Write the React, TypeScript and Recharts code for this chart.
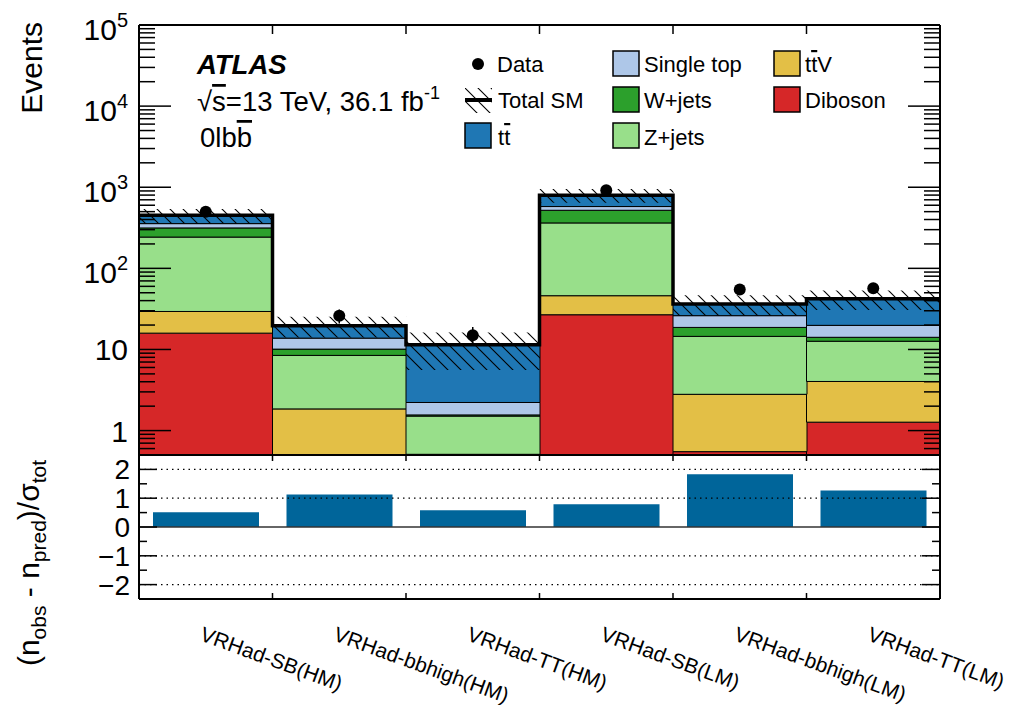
import React from 'react';
import {
  Bar,
  ComposedChart,
  ErrorBar,
  Line,
  ReferenceLine,
  Scatter,
  XAxis,
  YAxis,
} from 'recharts';

const FONT = '"Liberation Sans", Arial, Helvetica, sans-serif';

const regions = [
  'VRHad-SB(HM)',
  'VRHad-bbhigh(HM)',
  'VRHad-TT(HM)',
  'VRHad-SB(LM)',
  'VRHad-bbhigh(LM)',
  'VRHad-TT(LM)',
];

// background yields per region, bottom of the stack first
const diboson = [15.9, 0.3, 0.1, 26.8, 0.55, 1.27];
const ttV = [13.5, 1.55, 0.41, 19.2, 2.25, 2.76];
const zJets = [213.6, 6.6, 1.0, 317, 11.7, 8.6];
const wJets = [72, 1.65, 0.05, 157, 4.2, 1.5];
const singleTop = [41, 3.7, 0.66, 58, 7.4, 5.7];
const ttbar = [95, 5.8, 9.2, 219, 10.2, 22.5];

const observed = [500, 26, 15, 918, 55, 57];
const observedErr = [22, 5.1, 3.9, 30, 7.4, 7.5];

// total SM uncertainty band edges
const bandLow = [355, 14, 5.6, 645, 26, 30.7];
const bandHigh = [540, 25.3, 16.2, 950, 46.5, 53.5];

// (n_obs - n_pred) / sigma_tot
const pulls = [0.51, 1.13, 0.58, 0.79, 1.83, 1.27];

const yDecades = [1, 10, 100, 1000, 10000, 100000];
const pullTicks = [-2, -1.5, -1, -0.5, 0, 0.5, 1, 1.5, 2];
const binEdges = [1, 2, 3, 4, 5];
const labelTicks = [0.5, 1, 1.5, 2, 2.5, 3, 3.5, 4, 4.5, 5, 5.5];

const layers = [
  { key: 'dib', name: 'Diboson', colour: '#d62728' },
  { key: 'ttv', name: 'ttV', colour: '#e3bf46' },
  { key: 'zj', name: 'Z+jets', colour: '#98df8a' },
  { key: 'wj', name: 'W+jets', colour: '#2ca02c' },
  { key: 'st', name: 'Single top', colour: '#aec7e8' },
  { key: 'tt', name: 'ttbar', colour: '#1f77b4' },
];
const PULL_COLOUR = '#00659a';

const rows = regions.map((region, i) => ({
  region,
  pos: i + 0.5,
  dib: diboson[i],
  ttv: ttV[i],
  zj: zJets[i],
  wj: wJets[i],
  st: singleTop[i],
  tt: ttbar[i],
  lo: bandLow[i],
  hi: bandHigh[i],
  obs: observed[i],
  err: observedErr[i],
  pull: pulls[i],
}));

const totals = rows.map((r) => r.dib + r.ttv + r.zj + r.wj + r.st + r.tt);
// step outline of the total: one point per bin edge
const stepRows = [...totals, totals[totals.length - 1]].map((total, i) => ({ pos: i, total }));

const logTicks: number[] = [];
[0.1, ...yDecades].forEach((d) => {
  for (let m = 1; m <= 9; m++) {
    const v = +(d * m).toPrecision(3);
    if (v >= 0.6 && v <= 100000) logTicks.push(v);
  }
});

const isDecade = (v: number) => Math.abs(Math.log10(v) - Math.round(Math.log10(v))) < 1e-6;

const LogTickLeft = (props: any) => {
  const { x, y, payload } = props;
  const v = payload.value;
  const major = isDecade(v);
  const exp = Math.round(Math.log10(v));
  return (
    <g>
      <line x1={x} x2={x + (major ? 32 : 16)} y1={y} y2={y} stroke="#000" strokeWidth={1.5} />
      {major && exp < 2 && (
        <text x={x - 11} y={y + 11} textAnchor="end" fontSize={30} fontFamily={FONT} fill="#000">
          {exp === 0 ? '1' : '10'}
        </text>
      )}
      {major && exp >= 2 && (
        <text x={x - 11} y={y + 15} textAnchor="end" fontSize={30} fontFamily={FONT} fill="#000">
          10
          <tspan fontSize={20} dy={-13}>
            {exp}
          </tspan>
        </text>
      )}
    </g>
  );
};

const LogTickRight = (props: any) => {
  const { x, y, payload } = props;
  const major = isDecade(payload.value);
  return <line x1={x} x2={x - (major ? 32 : 16)} y1={y} y2={y} stroke="#000" strokeWidth={1.5} />;
};

const PullTickLeft = (props: any) => {
  const { x, y, payload } = props;
  const v = payload.value;
  const major = Number.isInteger(v);
  return (
    <g>
      <line x1={x} x2={x + (major ? 18 : 8)} y1={y} y2={y} stroke="#000" strokeWidth={1.5} />
      {major && (
        <text x={x - 9} y={y + 10} textAnchor="end" fontSize={28} fontFamily={FONT} fill="#000">
          {v < 0 ? `\u2212${-v}` : `${v}`}
        </text>
      )}
    </g>
  );
};

const PullTickRight = (props: any) => {
  const { x, y, payload } = props;
  const major = Number.isInteger(payload.value);
  return <line x1={x} x2={x - (major ? 18 : 8)} y1={y} y2={y} stroke="#000" strokeWidth={1.5} />;
};

const edgeTickDown = (len: number) => (props: any) => {
  const { x, y } = props;
  return <line x1={x} x2={x} y1={y} y2={y + len} stroke="#000" strokeWidth={1.5} />;
};

const RegionTick = (props: any) => {
  const { x, y, payload } = props;
  const v = payload.value;
  if (Number.isInteger(v)) {
    return <line x1={x} x2={x} y1={y} y2={y - 6} stroke="#000" strokeWidth={1.5} />;
  }
  return (
    <text
      transform={`translate(${x - 7},${y + 41}) rotate(20)`}
      fontSize={21}
      fontFamily={FONT}
      fill="#000"
    >
      {regions[Math.floor(v)]}
    </text>
  );
};

const frame = { stroke: '#000', strokeWidth: 2 };

const HatchPattern = ({ id }: { id: string }) => (
  <pattern id={id} patternUnits="userSpaceOnUse" width={13} height={13}>
    <path d="M0,0 L13,13 M-3,10 L3,16 M10,-3 L16,3" stroke="#000" strokeWidth={1.1} />
  </pattern>
);

const Overline = ({ children }: { children: React.ReactNode }) => (
  <tspan style={{ textDecoration: 'overline' }}>{children}</tspan>
);

function Legend() {
  const box = (x: number, y: number, colour: string) => (
    <rect x={x} y={y} width={26} height={25} fill={colour} stroke="#000" strokeWidth={1.5} />
  );
  const txt = (x: number, y: number, content: React.ReactNode) => (
    <text x={x} y={y} fontSize={22} fontFamily={FONT} fill="#000">
      {content}
    </text>
  );
  return (
    <g>
      <circle cx={478} cy={64} r={6} fill="#000" />
      {txt(497, 72, 'Data')}
      <rect x={465} y={88} width={27} height={25} fill="url(#hatchLegend)" />
      <line x1={465} x2={492} y1={100} y2={100} stroke="#000" strokeWidth={4} />
      {txt(498, 108, 'Total SM')}
      {box(465, 123, layers[5].colour)}
      {txt(498, 145, <>t<Overline>t</Overline></>)}

      {box(613, 51, layers[4].colour)}
      {txt(644, 72, 'Single top')}
      {box(613, 87, layers[3].colour)}
      {txt(644, 108, 'W+jets')}
      {box(613, 123, layers[2].colour)}
      {txt(644, 145, 'Z+jets')}

      {box(774, 51, layers[1].colour)}
      {txt(805, 72, <>t<Overline>t</Overline>V</>)}
      {box(774, 87, layers[0].colour)}
      {txt(805, 108, 'Diboson')}
    </g>
  );
}

export default function App() {
  return (
    <div
      style={{
        position: 'absolute',
        left: 0,
        top: 0,
        width: 1024,
        height: 707,
        background: '#fff',
        fontFamily: FONT,
      }}
    >
      <div style={{ position: 'absolute', left: 0, top: 0 }}>
        <ComposedChart
          width={1024}
          height={456}
          data={rows}
          margin={{ top: 24, right: 0, bottom: 0, left: 0 }}
          barCategoryGap={0}
          barGap={0}
        >
          <defs>
            <HatchPattern id="hatchBand" />
          </defs>
          <XAxis xAxisId="cat" dataKey="region" hide />
          <XAxis xAxisId="band" dataKey="region" hide />
          <XAxis xAxisId="num" dataKey="pos" type="number" domain={[0, 6]} allowDataOverflow hide />
          <XAxis
            xAxisId="top"
            dataKey="pos"
            orientation="top"
            type="number"
            domain={[0, 6]}
            allowDataOverflow
            ticks={binEdges}
            interval={0}
            height={1}
            tickSize={0}
            tickMargin={0}
            tickLine={false}
            axisLine={frame}
            tick={edgeTickDown(9)}
          />
          <XAxis
            xAxisId="bottom"
            dataKey="pos"
            orientation="bottom"
            type="number"
            domain={[0, 6]}
            allowDataOverflow
            ticks={[]}
            height={1}
            tick={false}
            tickLine={false}
            axisLine={frame}
          />
          <YAxis
            yAxisId="y"
            scale="log"
            type="number"
            domain={[0.5, 100000]}
            allowDataOverflow
            ticks={logTicks}
            interval={0}
            width={139}
            tickSize={0}
            tickMargin={0}
            tickLine={false}
            axisLine={frame}
            tick={LogTickLeft}
          />
          <YAxis
            yAxisId="yr"
            orientation="right"
            scale="log"
            type="number"
            domain={[0.5, 100000]}
            allowDataOverflow
            ticks={logTicks}
            interval={0}
            width={84}
            tickSize={0}
            tickMargin={0}
            tickLine={false}
            axisLine={frame}
            tick={LogTickRight}
          />

          {layers.map((l) => (
            <Bar
              key={l.key}
              xAxisId="cat"
              yAxisId="y"
              stackId="bkg"
              dataKey={l.key}
              fill={l.colour}
              stroke="#000"
              strokeWidth={1}
              isAnimationActive={false}
            />
          ))}
          <Bar
            xAxisId="band"
            yAxisId="y"
            dataKey={(d: any) => [d.lo, d.hi]}
            fill="url(#hatchBand)"
            isAnimationActive={false}
          />
          <Line
            xAxisId="num"
            yAxisId="y"
            data={stepRows}
            dataKey="total"
            type="stepAfter"
            stroke="#000"
            strokeWidth={3.5}
            dot={false}
            isAnimationActive={false}
          />
          <Scatter
            xAxisId="num"
            yAxisId="y"
            data={rows}
            dataKey="obs"
            isAnimationActive={false}
            shape={(p: any) => <circle cx={p.cx} cy={p.cy} r={6} fill="#000" />}
          >
            <ErrorBar dataKey="err" direction="y" width={0} stroke="#000" strokeWidth={1.5} />
          </Scatter>
        </ComposedChart>
      </div>

      <div style={{ position: 'absolute', left: 0, top: 454 }}>
        <ComposedChart
          width={1024}
          height={251}
          data={rows}
          margin={{ top: 0, right: 0, bottom: 0, left: 0 }}
          barCategoryGap={0}
        >
          <XAxis xAxisId="cat" dataKey="region" hide />
          <XAxis
            xAxisId="top"
            dataKey="pos"
            orientation="top"
            type="number"
            domain={[0, 6]}
            allowDataOverflow
            ticks={binEdges}
            interval={0}
            height={1}
            tickSize={0}
            tickMargin={0}
            tickLine={false}
            axisLine={frame}
            tick={edgeTickDown(6)}
          />
          <XAxis
            xAxisId="bottom"
            dataKey="pos"
            orientation="bottom"
            type="number"
            domain={[0, 6]}
            allowDataOverflow
            ticks={labelTicks}
            interval={0}
            height={106}
            tickSize={0}
            tickMargin={0}
            tickLine={false}
            axisLine={frame}
            tick={RegionTick}
          />
          <YAxis
            yAxisId="p"
            type="number"
            domain={[-2.5, 2.5]}
            allowDataOverflow
            ticks={pullTicks}
            interval={0}
            width={139}
            tickSize={0}
            tickMargin={0}
            tickLine={false}
            axisLine={frame}
            tick={PullTickLeft}
          />
          <YAxis
            yAxisId="pr"
            orientation="right"
            type="number"
            domain={[-2.5, 2.5]}
            allowDataOverflow
            ticks={pullTicks}
            interval={0}
            width={84}
            tickSize={0}
            tickMargin={0}
            tickLine={false}
            axisLine={frame}
            tick={PullTickRight}
          />
          {[-2, -1, 1, 2].map((v) => (
            <ReferenceLine
              key={v}
              xAxisId="bottom"
              yAxisId="p"
              y={v}
              stroke="#000"
              strokeWidth={1.2}
              strokeDasharray="1.5 4"
            />
          ))}
          <Bar
            xAxisId="cat"
            yAxisId="p"
            dataKey="pull"
            barSize={106}
            fill={PULL_COLOUR}
            isAnimationActive={false}
          />
          <ReferenceLine xAxisId="bottom" yAxisId="p" y={0} stroke="#333" strokeWidth={1.5} />
        </ComposedChart>
      </div>

      <svg
        width={1024}
        height={707}
        style={{ position: 'absolute', left: 0, top: 0, pointerEvents: 'none' }}
      >
        <defs>
          <HatchPattern id="hatchLegend" />
        </defs>
        <text
          transform="translate(42,22) rotate(-90)"
          textAnchor="end"
          fontSize={30}
          fontFamily={FONT}
          fill="#000"
        >
          Events
        </text>
        <text
          transform="translate(39,563) rotate(-90)"
          textAnchor="middle"
          fontSize={30}
          fontFamily={FONT}
          fill="#000"
        >
          (n
          <tspan fontSize={21} dy={7}>
            obs
          </tspan>
          <tspan dy={-7}> - n</tspan>
          <tspan fontSize={21} dy={7}>
            pred
          </tspan>
          <tspan dy={-7}>)/σ</tspan>
          <tspan fontSize={21} dy={7}>
            tot
          </tspan>
        </text>

        <text x={197} y={74} fontSize={27.5} fontWeight="bold" fontStyle="italic" fontFamily={FONT} fill="#000">
          ATLAS
        </text>
        <text x={197} y={111} fontSize={27.5} fontFamily={FONT} fill="#000">
          √<Overline>s</Overline>=13 TeV, 36.1 fb
          <tspan fontSize={18} dy={-12}>
            -1
          </tspan>
        </text>
        <text x={200} y={147} fontSize={27.5} fontFamily={FONT} fill="#000">
          0lb<Overline>b</Overline>
        </text>
        <Legend />
      </svg>
    </div>
  );
}
